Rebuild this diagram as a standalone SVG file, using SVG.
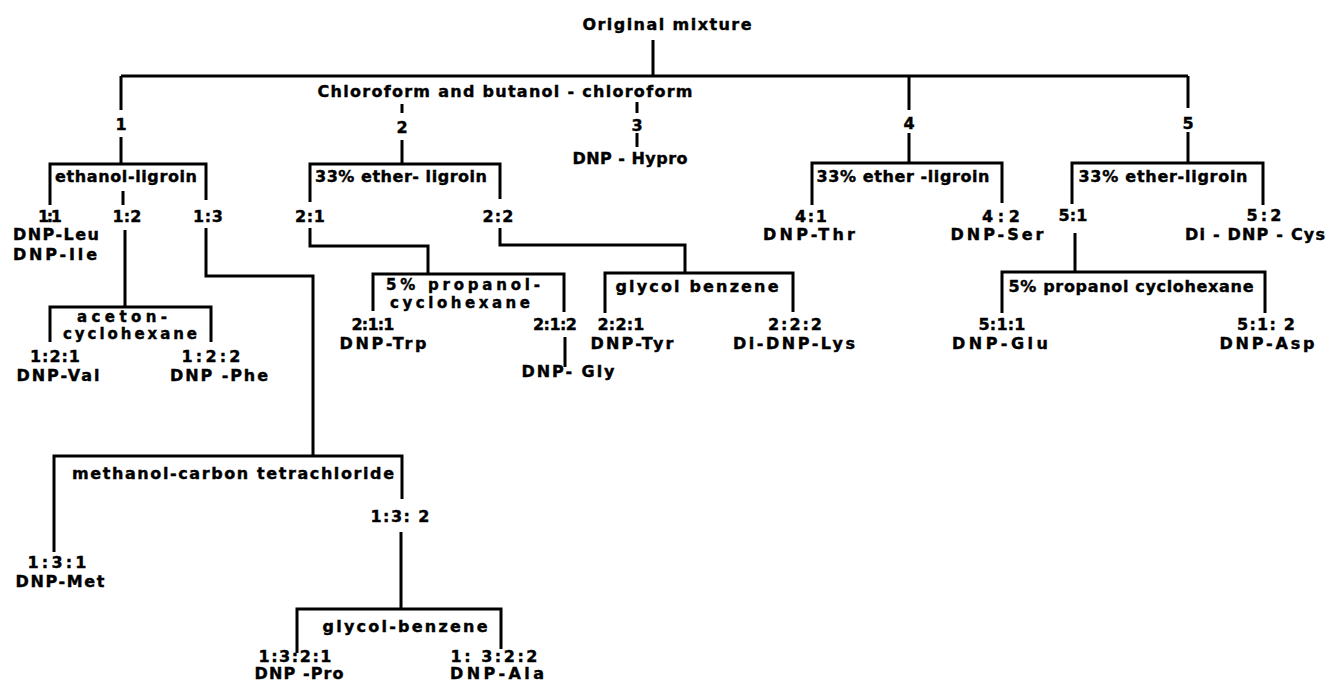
<svg xmlns="http://www.w3.org/2000/svg" width="1329" height="681" viewBox="0 0 1329 681">
<style>
text{font-family:"DejaVu Sans","Liberation Sans",sans-serif;font-weight:bold;font-size:16px;fill:#000;stroke:#000;stroke-width:0.4;text-anchor:middle}
.s{font-size:15px}
.c{fill:none;stroke:#000;stroke-width:3;stroke-linejoin:miter;stroke-linecap:butt}
</style>
<rect width="1329" height="681" fill="#fff"/>
<g id="connectors" class="c">
<path d="M653 40V76M121 76H1188"/>
<path d="M121 76V110M121 137V164"/>
<path d="M402 104V113M402 140V164"/>
<path d="M637 102V113M637 133V147"/>
<path d="M909 76V110M909 133V164"/>
<path d="M1188 76V108M1188 132V163"/>
<path d="M50 205V164H206V200M123 191V205"/>
<path d="M310 202V164H500V199"/>
<path d="M812 205V163H1002V203"/>
<path d="M1072 204V163H1263V205"/>
<path d="M125 230V307M50 342V307H211V342"/>
<path d="M206 228V276H313V456"/>
<path d="M54 552V456H402V499"/>
<path d="M401 532V609M297 653V609H501V649"/>
<path d="M310 228V246H428V274M373 311V274H564V312"/>
<path d="M565 337V367"/>
<path d="M500 228V245H685V273M605 313V273H793V312"/>
<path d="M1075 233V272M1002 313V272H1265V313"/>
</g>
<g id="n-original"><text x="667" y="30" textLength="169">Original mixture</text></g>
<g id="n-chloroform"><text x="505" y="97" textLength="375">Chloroform and butanol - chloroform</text></g>
<g id="n-1"><text x="121" y="130">1</text></g>
<g id="n-2"><text x="402" y="133">2</text></g>
<g id="n-3"><text x="637" y="131">3</text><text x="630" y="164" textLength="115">DNP - Hypro</text></g>
<g id="n-4"><text x="909" y="129">4</text></g>
<g id="n-5"><text x="1188" y="129">5</text></g>
<g id="n-ethanol"><text x="126" y="182" textLength="142">ethanol-ligroin</text></g>
<g id="n-ether2"><text x="401" y="182" textLength="172">33% ether- ligroin</text></g>
<g id="n-ether4"><text x="903" y="182" textLength="173">33% ether -ligroin</text></g>
<g id="n-ether5"><text x="1163" y="182" textLength="169">33% ether-ligroin</text></g>
<g id="n-1-1"><text x="50" y="222" textLength="24">1:1</text><text x="56" y="240" textLength="86">DNP-Leu</text><text x="55" y="260" textLength="84">DNP-Ile</text></g>
<g id="n-1-2"><text x="127" y="222" textLength="29">1:2</text></g>
<g id="n-1-3"><text x="208" y="222" textLength="30">1:3</text></g>
<g id="n-2-1"><text x="310" y="222" textLength="30">2:1</text></g>
<g id="n-2-2"><text x="498" y="222" textLength="31">2:2</text></g>
<g id="n-4-1"><text x="811" y="222" textLength="32">4:1</text><text x="809" y="240" textLength="92">DNP-Thr</text></g>
<g id="n-4-2"><text x="1001" y="222" textLength="38">4 : 2</text><text x="997" y="240" textLength="93">DNP-Ser</text></g>
<g id="n-5-1"><text x="1073" y="221" textLength="29">5:1</text></g>
<g id="n-5-2"><text x="1264" y="221" textLength="35">5:2</text><text x="1255" y="240" textLength="140">Di - DNP - Cys</text></g>
<g id="n-aceton"><text class="s" x="122" y="322" textLength="90">aceton-</text><text class="s" x="130" y="339" textLength="134">cyclohexane</text></g>
<g id="n-1-2-1"><text x="55" y="362" textLength="50">1:2:1</text><text x="58" y="381" textLength="83">DNP-Val</text></g>
<g id="n-1-2-2"><text x="211" y="362" textLength="59">1:2:2</text><text x="219" y="381" textLength="98">DNP -Phe</text></g>
<g id="n-propanol2"><text class="s" x="463" y="290" textLength="154">5% propanol-</text><text class="s" x="460" y="308" textLength="140">cyclohexane</text></g>
<g id="n-2-1-1"><text x="373" y="330" textLength="43">2:1:1</text><text x="383" y="349" textLength="87">DNP-Trp</text></g>
<g id="n-2-1-2"><text x="555" y="330" textLength="44">2:1:2</text><text x="568" y="377" textLength="93">DNP- Gly</text></g>
<g id="n-glycol2"><text x="697" y="292" textLength="163">glycol  benzene</text></g>
<g id="n-2-2-1"><text x="621" y="330" textLength="47">2:2:1</text><text x="632" y="349" textLength="83">DNP-Tyr</text></g>
<g id="n-2-2-2"><text x="795" y="330" textLength="54">2:2:2</text><text x="794" y="349" textLength="122">Di-DNP-Lys</text></g>
<g id="n-propanol5"><text x="1131" y="292" textLength="245">5% propanol  cyclohexane</text></g>
<g id="n-5-1-1"><text x="1002" y="330" textLength="47">5:1:1</text><text x="1000" y="349" textLength="96">DNP-Glu</text></g>
<g id="n-5-1-2"><text x="1266" y="330" textLength="58">5:1: 2</text><text x="1267" y="349" textLength="95">DNP-Asp</text></g>
<g id="n-methanol"><text x="233" y="479" textLength="322">methanol-carbon tetrachloride</text></g>
<g id="n-1-3-2"><text x="400" y="522" textLength="59">1:3: 2</text></g>
<g id="n-1-3-1"><text x="57" y="568" textLength="59">1:3:1</text><text x="60" y="587" textLength="89">DNP-Met</text></g>
<g id="n-glycol13"><text x="405" y="632" textLength="165">glycol-benzene</text></g>
<g id="n-1-3-2-1"><text x="295" y="662" textLength="73">1:3:2:1</text><text x="299" y="679" textLength="89">DNP -Pro</text></g>
<g id="n-1-3-2-2"><text x="494" y="662" textLength="87">1: 3:2:2</text><text x="497" y="679" textLength="94">DNP-Ala</text></g>
</svg>
